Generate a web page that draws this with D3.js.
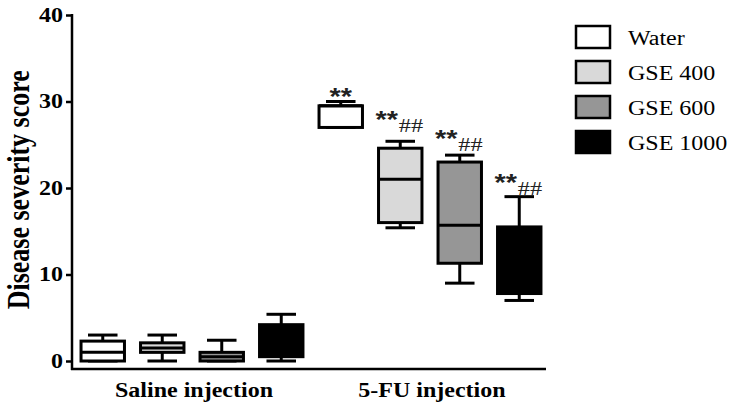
<!DOCTYPE html>
<html>
<head>
<meta charset="utf-8">
<script src="https://cdn.jsdelivr.net/npm/d3@7"></script>
<style>
  body { margin: 0; background: #fff; }
  svg { display: block; }
</style>
</head>
<body>
<svg id="chart" width="734" height="409"></svg>
<script>
// groups on the x axis and series inside each group
const groups = ["Saline injection", "5-FU injection"];
const series = ["Water", "GSE 400", "GSE 600", "GSE 1000"];
const fills = ["#ffffff", "#d9d9d9", "#969696", "#000000"];

// box stats per group, order = series
const mins    = [[0, 0, 0, 0],         [27, 15.4, 9.0, 7.0]];
const q1s     = [[0, 1.0, 0, 0.5],     [27, 16.0, 11.3, 7.8]];
const medians = [[1.0, 1.5, 0.5, 2],   [29.5, 21, 15.7, 11]];
const q3s     = [[2.3, 2.1, 1.0, 4.2], [29.5, 24.6, 23, 15.5]];
const maxs    = [[3, 3, 2.4, 5.4],     [30, 25.4, 23.8, 19]];

// significance marks (5-FU group only)
const stars  = ["**", "**", "**", "**"];
const hashes = ["", "##", "##", "##"];
const markAt = [31.1, 28.4, 26.3, 21.2];

const yTicks = [0, 10, 20, 30, 40];

const SERIF = "Liberation Serif, Times New Roman, serif";
const SANS = "Liberation Sans, Arial, sans-serif";
const STRETCH = 1.2; // the original figure is a bit wide

// widen text horizontally, keeping its anchor
function stretch(sel, k) {
  sel.each(function() {
    var w = this.getComputedTextLength();
    d3.select(this).attr("textLength", w * k).attr("lengthAdjust", "spacingAndGlyphs");
  });
}

var svg = d3.select("#chart");

var y = d3.scaleLinear().domain([0, 40]).range([361, 15]);
var x0 = d3.scaleBand().domain(groups).range([73, 549]);
var x1 = d3.scaleBand().domain(series).range([0, x0.bandwidth()])
    .paddingInner(0.27).paddingOuter(0.135);

// y axis
var yAxis = svg.append("g")
    .attr("transform", "translate(72,0)")
    .call(d3.axisLeft(y).tickValues(yTicks).tickSize(6).tickPadding(3));
yAxis.select(".domain").remove();
yAxis.selectAll("line").attr("stroke", "#000").attr("stroke-width", 2.5);
yAxis.selectAll("text")
    .attr("font-family", SERIF)
    .attr("font-weight", "bold")
    .attr("font-size", 20)
    .attr("fill", "#000")
    .call(stretch, STRETCH);

svg.append("line")
    .attr("x1", 72).attr("x2", 72)
    .attr("y1", y(40) - 1).attr("y2", 370)
    .attr("stroke", "#000").attr("stroke-width", 2.5);
svg.append("line")
    .attr("x1", 71).attr("x2", 546)
    .attr("y1", 369).attr("y2", 369)
    .attr("stroke", "#000").attr("stroke-width", 2.5);

svg.append("text")
    .attr("transform", "translate(29," + y(19.8) + ") scale(" + STRETCH + ",1) rotate(-90)")
    .attr("text-anchor", "middle")
    .attr("font-family", SERIF)
    .attr("font-weight", "bold")
    .attr("font-size", 26)
    .text("Disease severity score");

// group labels
svg.selectAll(".group-label")
    .data(groups)
    .enter().append("text")
    .attr("class", "group-label")
    .attr("x", d => x0(d) + x0.bandwidth() / 2 + 2)
    .attr("y", 397)
    .attr("text-anchor", "middle")
    .attr("font-family", SERIF)
    .attr("font-weight", "bold")
    .attr("font-size", 20)
    .text(d => d)
    .call(stretch, STRETCH);

// boxes
groups.forEach(function(g, gi) {
  var gg = svg.append("g").attr("transform", "translate(" + x0(g) + ",0)");
  series.forEach(function(s, si) {
    var bx = x1(s), bw = x1.bandwidth(), cx = bx + bw / 2;
    var cap = bw * 0.34;
    // whiskers
    gg.append("line")
      .attr("x1", cx).attr("x2", cx)
      .attr("y1", y(maxs[gi][si])).attr("y2", y(q3s[gi][si]))
      .attr("stroke", "#000").attr("stroke-width", 3);
    gg.append("line")
      .attr("x1", cx).attr("x2", cx)
      .attr("y1", y(mins[gi][si])).attr("y2", y(q1s[gi][si]))
      .attr("stroke", "#000").attr("stroke-width", 3);
    gg.append("line")
      .attr("x1", cx - cap).attr("x2", cx + cap)
      .attr("y1", y(maxs[gi][si])).attr("y2", y(maxs[gi][si]))
      .attr("stroke", "#000").attr("stroke-width", 3);
    gg.append("line")
      .attr("x1", cx - cap).attr("x2", cx + cap)
      .attr("y1", y(mins[gi][si])).attr("y2", y(mins[gi][si]))
      .attr("stroke", "#000").attr("stroke-width", 3);
    // box
    gg.append("rect")
      .attr("x", bx).attr("width", bw)
      .attr("y", y(q3s[gi][si]))
      .attr("height", Math.max(0, y(q1s[gi][si]) - y(q3s[gi][si])))
      .attr("fill", fills[si])
      .attr("stroke", "#000").attr("stroke-width", 3);
    gg.append("line")
      .attr("x1", bx).attr("x2", bx + bw)
      .attr("y1", y(medians[gi][si])).attr("y2", y(medians[gi][si]))
      .attr("stroke", "#000").attr("stroke-width", 3);

    if (gi == 1) {
      var ty = y(markAt[si]) + 13;
      var st = gg.append("text")
        .attr("x", hashes[si] ? bx - 3 : cx)
        .attr("y", ty)
        .attr("text-anchor", hashes[si] ? "start" : "middle")
        .attr("fill", "#222")
        .attr("font-family", SANS)
        .attr("font-weight", "bold")
        .attr("font-size", 24)
        .text(stars[si])
        .call(stretch, STRETCH);
      if (hashes[si]) {
        var sw = st.node().getBBox().width;
        gg.append("text")
          .attr("x", bx - 3 + sw)
          .attr("y", ty + 4)
          .attr("fill", "#222")
          .attr("font-family", SERIF)
          .attr("font-size", 18)
          .text(hashes[si])
          .call(stretch, 1.35);
      }
    }
  });
});

// legend
var legend = svg.selectAll(".legend")
    .data(series)
    .enter().append("g")
    .attr("class", "legend")
    .attr("transform", (d, i) => "translate(576," + (26 + i * 35) + ")");
legend.append("rect")
    .attr("width", 34).attr("height", 22)
    .attr("fill", (d, i) => fills[i])
    .attr("stroke", "#000").attr("stroke-width", 2.5);
legend.append("text")
    .attr("x", 52).attr("y", 19)
    .attr("font-family", SERIF)
    .attr("font-size", 20)
    .text(d => d)
    .call(stretch, STRETCH);
</script>
</body>
</html>
